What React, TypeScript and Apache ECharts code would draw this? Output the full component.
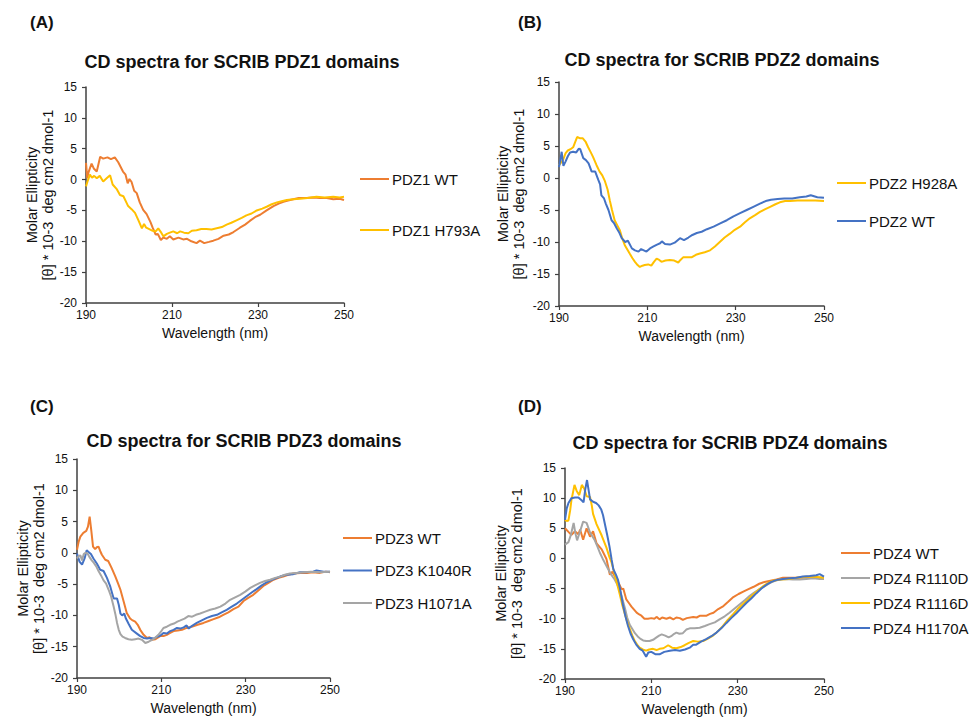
import React, { useEffect, useRef } from "react";
import * as echarts from "echarts";

type P = [number, number][];

const xTicks = { min: 190, max: 250, interval: 20 };
const yTicks = { min: -20, max: 15, interval: 5 };

const panelLabels = ["(A)", "(B)", "(C)", "(D)"];
const panelTitles = [
  "CD spectra for SCRIB PDZ1 domains",
  "CD spectra for SCRIB PDZ2 domains",
  "CD spectra for SCRIB PDZ3 domains",
  "CD spectra for SCRIB PDZ4 domains",
];
const xName = "Wavelength (nm)";
const yName = "Molar Ellipticity\n[θ] * 10-3  deg cm2 dmol-1";

const pdz1WT: P = [[190,2.7],[190.3,0.2],[190.6,1.2],[191.3,2.6],[191.8,1.8],[192.5,1.3],[193.3,3.7],[194,3.4],[195,3.6],[195.8,3.3],[196.7,3.6],[197.5,2.8],[198.6,1.3],[199.2,0.8],[199.7,-0.6],[200.1,0.1],[200.6,-0.4],[201.2,-1.8],[201.8,-2.2],[202.5,-3.7],[203.3,-4.9],[204.1,-5.6],[205,-6.9],[205.5,-7.8],[206.2,-8.9],[206.7,-8.8],[207.4,-9.8],[208,-9.4],[208.8,-9.6],[209.5,-9.2],[210.3,-9.7],[211.5,-9.4],[212.6,-9.7],[213.5,-9.6],[214.5,-10],[215.7,-10.3],[216.5,-9.9],[217.5,-10.3],[218.6,-10.1],[219.6,-9.9],[220.8,-9.6],[222,-9.1],[223.2,-8.9],[224.3,-8.5],[225.8,-7.8],[227,-7.3],[228.1,-6.7],[229.3,-6.1],[230.5,-5.7],[232,-5.0],[233.6,-4.3],[234.8,-3.9],[235.9,-3.6],[237,-3.4],[238.2,-3.2],[239.5,-3.0],[241.2,-3.0],[242.8,-2.9],[244.4,-3.0],[246,-3.0],[247.5,-3.2],[249,-3.1],[250,-3.3]];
const pdz1H793A: P = [[190,-1.1],[190.4,-0.2],[190.9,0.8],[191.4,0.3],[191.9,0.6],[192.5,0.2],[193.2,0.6],[194,-0.3],[194.8,0.2],[195.6,0.7],[196.2,-0.8],[197.2,-1.6],[197.9,-2.5],[198.7,-2.7],[199.8,-4.3],[200.6,-4.8],[201.4,-5.4],[202.2,-6.6],[203,-7.9],[203.5,-7.2],[204,-7.8],[204.6,-8.0],[205.5,-8.3],[206.2,-8.4],[206.8,-7.9],[207.5,-8.6],[208,-9.2],[208.8,-8.8],[209.5,-8.6],[210.3,-8.4],[211.2,-8.7],[211.9,-8.4],[212.8,-8.6],[213.8,-8.7],[214.6,-8.3],[215.7,-8.2],[216.8,-8.0],[218,-8.0],[219.2,-8.1],[220.4,-7.9],[221.6,-7.7],[222.7,-7.3],[223.8,-7.0],[225,-6.6],[226.2,-6.2],[227.3,-5.8],[228.5,-5.5],[229.7,-5.0],[231,-4.7],[232,-4.4],[233.2,-4.0],[234.4,-3.7],[235.5,-3.5],[236.7,-3.3],[238.2,-3.2],[239.8,-3.1],[241.5,-3.0],[243.6,-2.8],[245.5,-2.9],[247.5,-2.8],[249,-2.9],[250,-2.8]];

const pdz2H928A: P = [[190,2.0],[190.9,2.8],[191.5,3.9],[192,4.3],[192.6,4.5],[193.2,4.8],[193.7,5.7],[194.1,6.4],[194.8,6.2],[195.4,6.2],[196,5.7],[196.6,4.8],[197.2,4.0],[197.7,3.3],[198.5,2.0],[199.2,1.0],[199.8,0.4],[200.4,-0.5],[201,-1.8],[201.5,-3.5],[202,-5.0],[202.6,-6.6],[203.2,-7.4],[203.8,-8.2],[204.3,-9.4],[204.9,-10.5],[205.5,-11.2],[206,-11.8],[206.6,-12.5],[207.2,-13.1],[207.8,-13.6],[208.3,-13.9],[208.9,-13.7],[209.4,-13.6],[210.2,-13.5],[210.9,-13.7],[211.5,-13.1],[212.1,-12.6],[212.7,-12.8],[213.2,-13.1],[214.1,-12.9],[215.1,-12.8],[216.1,-12.9],[217,-13.2],[217.5,-12.8],[218.1,-12.4],[219,-12.4],[220,-12.4],[221,-12.0],[221.9,-11.8],[223,-11.6],[224.2,-11.3],[225.3,-10.7],[226.4,-10.0],[227.5,-9.3],[228.7,-8.7],[229.8,-8.1],[231,-7.6],[232.1,-6.9],[233.2,-6.3],[234.4,-5.8],[235.5,-5.3],[236.6,-4.9],[237.8,-4.5],[239,-4.1],[240,-3.8],[241.2,-3.6],[242.3,-3.6],[244,-3.5],[246.1,-3.5],[248,-3.5],[250,-3.6]];
const pdz2WT: P = [[190,1.7],[190.3,2.8],[190.6,4.1],[191,1.9],[191.5,2.6],[192,3.4],[192.5,4.0],[193.2,4.1],[193.9,4.0],[194.5,4.6],[194.8,4.5],[195.5,3.1],[196.1,2.8],[196.7,2.3],[197.4,1.0],[198.2,1.0],[198.9,-0.3],[199.3,-1.0],[199.6,-2.7],[200.2,-3.2],[200.6,-4.0],[201.2,-5.0],[201.9,-6.6],[202.5,-7.1],[203.1,-7.9],[203.7,-8.6],[204.2,-9.4],[205,-10.0],[205.6,-9.8],[206.5,-11.0],[207.2,-11.3],[208,-11.5],[208.6,-11.1],[209.2,-11.3],[209.8,-11.5],[210.6,-11.0],[211.4,-10.7],[212.2,-10.4],[212.9,-10.2],[213.3,-9.9],[214,-10.3],[215.1,-10.4],[216.2,-10.1],[217.4,-9.4],[218.3,-9.7],[219.3,-9.3],[220.2,-8.9],[221.2,-8.6],[222.3,-8.4],[223.5,-8.0],[225,-7.6],[226.5,-7.1],[228,-6.6],[229.5,-6.0],[231,-5.5],[232.5,-5.0],[234,-4.5],[235.5,-4.0],[236.8,-3.6],[238,-3.4],[239.5,-3.3],[241,-3.2],[242.8,-3.2],[244.5,-3.0],[246,-2.9],[247,-2.7],[248.5,-3.0],[250,-3.1]];

const pdz3WT: P = [[190,0.5],[190.4,1.8],[190.8,2.6],[191.5,3.2],[192.2,3.5],[192.6,4.2],[193,5.8],[193.4,3.5],[193.8,1.0],[194.3,0.6],[194.7,0.9],[195.1,1.0],[195.5,0.3],[195.9,-0.3],[196.7,-1.1],[197.4,-1.3],[198.2,-2.4],[199.1,-3.8],[199.8,-5.0],[200.3,-5.9],[201,-7.6],[201.8,-9.6],[202.6,-10.5],[203.2,-10.8],[203.8,-11.0],[204.4,-11.5],[205,-12.3],[205.8,-13.1],[206.6,-13.6],[207.2,-13.5],[207.8,-13.9],[208.6,-13.8],[209.7,-13.3],[210.5,-13.3],[211.3,-13.1],[212.1,-12.8],[212.9,-12.5],[213.9,-12.4],[214.9,-12.3],[216,-12.0],[217.2,-11.8],[218.6,-11.5],[220,-11.2],[221.2,-10.9],[222.4,-10.6],[223.6,-10.3],[224.7,-9.9],[225.9,-9.5],[227.1,-9.0],[228.3,-8.6],[229.5,-7.7],[230.6,-7.2],[231.8,-6.7],[233,-6.0],[234.2,-5.3],[235.4,-4.8],[236.6,-4.3],[237.8,-4.0],[238.9,-3.8],[240.1,-3.5],[241.3,-3.3],[243,-3.2],[244.5,-3.2],[246,-3.1],[247.6,-3.2],[249,-3.0],[250,-3.1]];
const pdz3K1040R: P = [[190,-0.1],[190.6,-1.4],[191.2,-1.9],[191.8,-0.9],[192.3,0.4],[192.8,0.1],[193.3,-0.2],[193.9,-0.9],[194.7,-1.7],[195.5,-2.7],[196.3,-2.9],[197.1,-4.0],[197.9,-5.4],[198.4,-6.6],[198.7,-7.3],[199.5,-7.3],[199.9,-8.3],[200.3,-9.7],[200.7,-10.0],[201.2,-9.7],[201.6,-10.5],[202.2,-11.3],[203,-12.3],[204.2,-12.9],[205,-13.3],[205.8,-13.6],[206.6,-13.7],[207.4,-13.6],[208.2,-13.7],[209,-13.4],[209.8,-13.2],[210.5,-12.8],[211.3,-12.9],[212.1,-12.5],[212.9,-12.3],[213.7,-12.0],[214.5,-12.1],[215.3,-11.9],[216,-11.6],[216.5,-12.1],[217.2,-11.7],[218.4,-11.2],[219.6,-10.8],[220.8,-10.4],[222,-10.1],[223.2,-9.9],[224.3,-9.5],[225.5,-9.1],[226.7,-8.6],[227.9,-8.1],[229.1,-7.5],[230.3,-6.9],[231.5,-6.3],[232.6,-5.8],[233.8,-5.2],[235,-4.7],[236.2,-4.3],[237.4,-4.0],[238.5,-3.7],[239.7,-3.5],[241.3,-3.4],[242.9,-3.1],[244.5,-3.1],[246,-3.0],[246.8,-2.8],[248.5,-3.0],[250,-3.0]];
const pdz3H1071A: P = [[190,-0.9],[190.4,-0.5],[190.8,-0.4],[191.2,-1.2],[191.6,-0.2],[192,0],[192.5,-0.1],[192.9,-0.6],[193.5,-1.2],[194,-1.6],[194.6,-2.2],[195.1,-2.9],[195.7,-3.6],[196.3,-4.4],[196.9,-4.9],[197.5,-5.9],[198.1,-7.0],[198.7,-8.6],[199.1,-9.8],[199.5,-11.2],[199.9,-12.3],[200.3,-13.0],[200.8,-13.4],[201.4,-13.6],[202.2,-13.8],[203,-13.9],[203.8,-13.8],[204.6,-13.7],[205.4,-13.9],[206.2,-14.4],[207,-14.2],[207.8,-13.9],[208.5,-13.6],[209.3,-13.1],[209.9,-12.6],[210.5,-12.0],[211.3,-11.8],[212.1,-11.5],[213,-11.3],[213.8,-11.0],[214.5,-10.8],[215.5,-10.5],[216.4,-10.1],[217.3,-10.2],[218.2,-9.9],[219.2,-9.7],[220.4,-9.4],[221.6,-9.1],[222.8,-8.9],[224,-8.6],[225.2,-8.1],[226.3,-7.5],[227.5,-7.1],[228.7,-6.7],[229.9,-6.2],[231.1,-5.6],[232.2,-5.2],[233.4,-4.8],[234.6,-4.5],[235.8,-4.3],[237,-4.0],[238.2,-3.8],[239.3,-3.5],[240.5,-3.3],[242,-3.2],[243.7,-3.1],[245.5,-3.0],[247.5,-3.1],[250,-3.0]];

const pdz4WT: P = [[190,5.0],[190.8,4.4],[191.5,3.9],[192.3,4.5],[193.1,4.0],[193.5,4.8],[194.2,3.1],[195,5.0],[195.8,3.6],[196.5,4.5],[197.3,2.5],[198.5,1.5],[199.6,-0.1],[200.4,-2.7],[201,-2.2],[201.9,-3.5],[202.5,-4.2],[203.1,-5.1],[203.5,-5.0],[204.2,-6.8],[204.8,-7.4],[205.4,-8.0],[206,-8.5],[206.6,-9.0],[207.2,-9.3],[207.7,-9.5],[208.4,-10.0],[209.2,-10.0],[210,-9.9],[210.7,-10.0],[211.2,-9.7],[211.9,-10.1],[212.5,-9.8],[213.5,-10.0],[214.3,-9.8],[215.1,-10.1],[215.8,-9.8],[216.6,-9.9],[217.3,-10.2],[218.2,-9.9],[219.7,-9.7],[220.5,-9.8],[221.3,-9.5],[222.8,-9.5],[223.6,-9.2],[224.4,-9.0],[225.5,-8.4],[226.7,-7.9],[227.8,-7.2],[229,-6.4],[230.2,-5.9],[231.3,-5.5],[232.5,-5.1],[233.7,-4.7],[235,-4.2],[236.2,-3.9],[237.6,-3.7],[239,-3.5],[240.5,-3.2],[242,-3.2],[243.6,-3.2],[245,-3.2],[246.7,-3.1],[248.5,-3.2],[250,-3.2]];
const pdz4R1110D: P = [[190,2.3],[190.8,2.7],[191.4,4.0],[192,5.9],[192.4,4.2],[192.8,3.0],[193.5,4.5],[194.2,6.1],[195,5.9],[195.8,4.3],[196.4,3.6],[196.9,3.0],[197.5,2.0],[198.1,0.9],[198.7,0.0],[199.2,-0.7],[199.8,-1.5],[200.4,-2.3],[201,-3.0],[201.5,-3.5],[202.1,-4.3],[202.7,-5.3],[203.2,-6.5],[203.9,-8.3],[204.4,-9.8],[205,-11.0],[205.6,-11.7],[206.2,-12.4],[206.8,-12.9],[207.4,-13.3],[208.1,-13.6],[208.8,-13.7],[209.6,-13.7],[210.4,-13.5],[211.2,-13.1],[211.8,-12.8],[212.4,-12.6],[213.2,-12.8],[214,-13.1],[214.6,-12.9],[215.3,-12.5],[215.8,-12.3],[216.5,-12.5],[217.3,-12.4],[218.1,-11.8],[218.9,-11.6],[220,-11.6],[221.2,-11.5],[222.4,-11.2],[223.5,-10.9],[224.7,-10.6],[225.8,-10.1],[227,-9.6],[228.1,-9.0],[229.3,-8.3],[230.5,-7.6],[231.7,-6.9],[232.8,-6.2],[234,-5.6],[235.1,-5.1],[236.3,-4.6],[237.4,-4.1],[238.6,-3.7],[239.7,-3.5],[241.2,-3.4],[242.8,-3.5],[244.4,-3.5],[245.9,-3.4],[247.5,-3.3],[249,-3.4],[250,-3.4]];
const pdz4R1116D: P = [[190,6.4],[190.4,6.2],[190.8,6.3],[191.2,8.0],[191.5,9.7],[192.2,12.2],[192.7,11.2],[193.3,10.5],[193.9,12.2],[194.5,11.5],[195,10.3],[195.8,10.2],[196.2,8.8],[196.5,7.4],[197.3,5.7],[198.5,3.8],[199.6,1.8],[200.3,0.2],[200.8,-0.7],[201.5,-2.6],[202.1,-4.3],[202.7,-6.0],[203.3,-7.8],[203.9,-9.3],[204.5,-10.7],[205,-11.7],[205.6,-12.8],[206.1,-13.6],[206.7,-14.3],[207.3,-14.8],[208,-15.1],[208.8,-15.3],[209.5,-15.1],[210.4,-15.0],[211.2,-15.2],[211.9,-15.0],[212.8,-14.9],[213.9,-14.4],[214.8,-14.8],[215.8,-14.9],[216.8,-14.7],[217.7,-14.4],[218.7,-14.0],[219.7,-13.7],[220.8,-13.8],[222,-13.7],[223.1,-13.3],[224.3,-12.8],[225.4,-12.1],[226.6,-11.2],[227.7,-10.2],[228.9,-9.3],[230,-8.4],[231.2,-7.6],[232.4,-6.8],[233.6,-6.0],[234.7,-5.3],[235.9,-4.6],[237,-4.1],[238.2,-3.7],[240,-3.5],[241.8,-3.4],[243.6,-3.2],[245.2,-3.1],[246.7,-3.0],[248.5,-3.1],[250,-3.2]];
const pdz4H1170A: P = [[190,6.4],[190.4,8.3],[190.8,9.2],[191.5,10.0],[192.3,10.1],[193.1,10.1],[193.9,9.6],[194.3,9.3],[194.7,11.5],[195.1,13.0],[195.5,11.2],[195.8,9.8],[196.5,9.4],[197.2,9.2],[197.8,8.8],[198.4,8.1],[198.8,7.2],[199.3,5.5],[199.8,3.8],[200.3,2.0],[200.8,-0.2],[201.2,-1.8],[201.8,-2.7],[202.3,-3.6],[202.8,-5.2],[203.4,-7.6],[204,-9.6],[204.6,-11.2],[205.2,-12.5],[205.8,-13.4],[206.5,-14.3],[207.3,-15.0],[208,-15.3],[208.8,-16.3],[209.3,-15.6],[210,-15.5],[211,-15.9],[211.9,-15.9],[213,-15.5],[214.3,-15.3],[215.5,-15.2],[216.6,-15.3],[217.8,-15.1],[218.9,-14.8],[219.7,-14.3],[220.4,-14.3],[221.5,-13.8],[222.7,-13.4],[223.9,-12.9],[225.1,-12.3],[226.2,-11.6],[227.4,-10.7],[228.5,-9.9],[229.7,-9.1],[230.9,-8.2],[232,-7.4],[233.2,-6.6],[234.3,-5.8],[235.5,-5.0],[236.6,-4.4],[237.8,-3.9],[238.9,-3.6],[240.5,-3.4],[242,-3.3],[243.6,-3.2],[245.1,-3.0],[246.7,-2.9],[248.2,-2.8],[249,-2.6],[250,-3.0]];

const ORANGE = "#ED7D31";
const YELLOW = "#FFC000";
const BLUE = "#4472C4";
const GRAY = "#A5A5A5";

const panelSeries: { name: string; data: P; color: string }[][] = [
  [
    { name: "PDZ1 WT", data: pdz1WT, color: ORANGE },
    { name: "PDZ1 H793A", data: pdz1H793A, color: YELLOW },
  ],
  [
    { name: "PDZ2 H928A", data: pdz2H928A, color: YELLOW },
    { name: "PDZ2 WT", data: pdz2WT, color: BLUE },
  ],
  [
    { name: "PDZ3 WT", data: pdz3WT, color: ORANGE },
    { name: "PDZ3 K1040R", data: pdz3K1040R, color: BLUE },
    { name: "PDZ3 H1071A", data: pdz3H1071A, color: GRAY },
  ],
  [
    { name: "PDZ4 WT", data: pdz4WT, color: ORANGE },
    { name: "PDZ4 R1110D", data: pdz4R1110D, color: GRAY },
    { name: "PDZ4 R1116D", data: pdz4R1116D, color: YELLOW },
    { name: "PDZ4 H1170A", data: pdz4H1170A, color: BLUE },
  ],
];

// layout per panel
const layout = [
  { grid: { left: 86, top: 87, width: 258, height: 216 }, title: [242, 53], label: [30, 23], legend: { left: 360, top: 171.5, gap: 36 }, yGap: 30 },
  { grid: { left: 559, top: 82, width: 265, height: 224 }, title: [722, 51], label: [518, 23], legend: { left: 837, top: 175.5, gap: 23 }, yGap: 32 },
  { grid: { left: 77, top: 459, width: 253, height: 219 }, title: [244, 432], label: [30, 407], legend: { left: 343, top: 530.5, gap: 17.5 }, yGap: 30 },
  { grid: { left: 565, top: 468, width: 259, height: 212 }, title: [730, 434], label: [518, 407], legend: { left: 841, top: 545.5, gap: 10 }, yGap: 40 },
];

const FONT = "'Liberation Sans', Arial, Helvetica, sans-serif";
const AXIS_COLOR = "#404040";
const TEXT_COLOR = "#111";
const LEGEND_ICON = "path://M0,0 L29,0 L29,2 L0,2 Z";

export default function App() {
  const ref = useRef<HTMLDivElement>(null);
  useEffect(() => {
    if (!ref.current) return;
    const chart = echarts.init(ref.current, undefined, { renderer: "svg" });
    const option: any = {
      animation: false,
      backgroundColor: "#ffffff",
      textStyle: { fontFamily: FONT },
      title: panelTitles.map((t, i) => ({
        text: t,
        left: layout[i].title[0],
        top: layout[i].title[1],
        textAlign: "center",
        padding: 0,
        textStyle: { fontSize: 18, fontWeight: "bold", color: TEXT_COLOR, fontFamily: FONT },
      })),
      legend: panelSeries.map((ss, i) => ({
        orient: "vertical",
        left: layout[i].legend.left,
        top: layout[i].legend.top,
        itemGap: layout[i].legend.gap,
        itemWidth: 29,
        itemHeight: 15,
        padding: 0,
        icon: LEGEND_ICON,
        selectedMode: false,
        data: ss.map((s) => ({ name: s.name, icon: LEGEND_ICON })),
        textStyle: { fontSize: 15, color: TEXT_COLOR, fontFamily: FONT, padding: [0, 0, 0, -2] },
      })),
      grid: layout.map((l) => ({ ...l.grid, containLabel: false })),
      xAxis: layout.map((l, i) => ({
        type: "value",
        gridIndex: i,
        min: xTicks.min,
        max: xTicks.max,
        interval: xTicks.interval,
        name: xName,
        nameLocation: "middle",
        nameGap: 23,
        nameTextStyle: { fontSize: 14, color: TEXT_COLOR, fontFamily: FONT },
        axisLine: { show: true, onZero: false, lineStyle: { color: AXIS_COLOR, width: 1.5 } },
        axisTick: { show: true, length: 4, lineStyle: { color: AXIS_COLOR, width: 1.2 } },
        axisLabel: { fontSize: 12, color: TEXT_COLOR, margin: 6, fontFamily: FONT },
        splitLine: { show: false },
      })),
      yAxis: layout.map((l, i) => ({
        type: "value",
        gridIndex: i,
        min: yTicks.min,
        max: yTicks.max,
        interval: yTicks.interval,
        name: yName,
        nameLocation: "middle",
        nameGap: l.yGap,
        nameTextStyle: { fontSize: 14.5, lineHeight: 16, color: TEXT_COLOR, fontFamily: FONT },
        axisLine: { show: true, onZero: false, lineStyle: { color: AXIS_COLOR, width: 1.5 } },
        axisTick: { show: true, length: 4, lineStyle: { color: AXIS_COLOR, width: 1.2 } },
        axisLabel: { fontSize: 12, color: TEXT_COLOR, margin: 9, fontFamily: FONT },
        splitLine: { show: false },
      })),
      series: panelSeries.flatMap((ss, i) =>
        ss.map((s) => ({
          type: "line",
          name: s.name,
          xAxisIndex: i,
          yAxisIndex: i,
          data: s.data,
          symbol: "none",
          showSymbol: false,
          color: s.color,
          itemStyle: { color: s.color },
          lineStyle: { color: s.color, width: 2 },
        }))
      ),
      graphic: panelLabels.map((t, i) => ({
        type: "text",
        left: layout[i].label[0],
        top: layout[i].label[1] - 9,
        style: { text: t, fontSize: 17, fontWeight: "bold", fill: TEXT_COLOR, fontFamily: FONT },
      })),
    };
    chart.setOption(option);
    return () => chart.dispose();
  }, []);
  return (
    <div
      ref={ref}
      style={{ position: "absolute", left: 0, top: 0, width: 973, height: 717, background: "#fff" }}
    />
  );
}
